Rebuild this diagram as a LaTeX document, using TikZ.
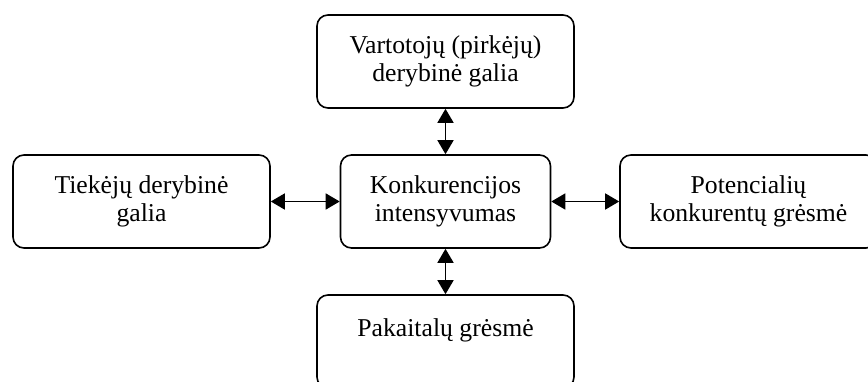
\documentclass[tikz,border=0pt]{standalone}
\usepackage{fontspec}
\setmainfont{Liberation Serif}
\usetikzlibrary{arrows.meta}
\begin{document}
\begin{tikzpicture}[x=1pt,y=1pt,
  box/.style={draw, line width=1.6pt, rounded corners=11pt, inner sep=0pt,
    minimum height=93pt, align=center,
    font=\fontsize{25.7}{28.5}\selectfont},
  wide/.style={box, minimum width=257pt},
  arr/.style={line width=1.6pt, {Triangle[length=14pt,width=16pt]}-{Triangle[length=14pt,width=16pt]}}]
\useasboundingbox (0,0) rectangle (868,381);
\node[wide] (top) at (445.5,319.5) {Vartotojų (pirkėjų)\\derybinė galia};
\node[wide] (left) at (141.5,179.5) {Tiekėjų derybinė\\galia};
\node[box, minimum width=210pt] (center) at (445.5,179.5) {Konkurencijos\\intensyvumas};
\node[wide] (right) at (748.5,179.5) {Potencialių\\konkurentų grėsmė};
\node[wide] (bottom) at (445.5,39.5) {Pakaitalų grėsmė\\\mbox{}};
\draw[arr] (top.south) -- (center.north);
\draw[arr] (center.south) -- (bottom.north);
\draw[arr] (left.east) -- (center.west);
\draw[arr] (center.east) -- (right.west);
\end{tikzpicture}
\end{document}
